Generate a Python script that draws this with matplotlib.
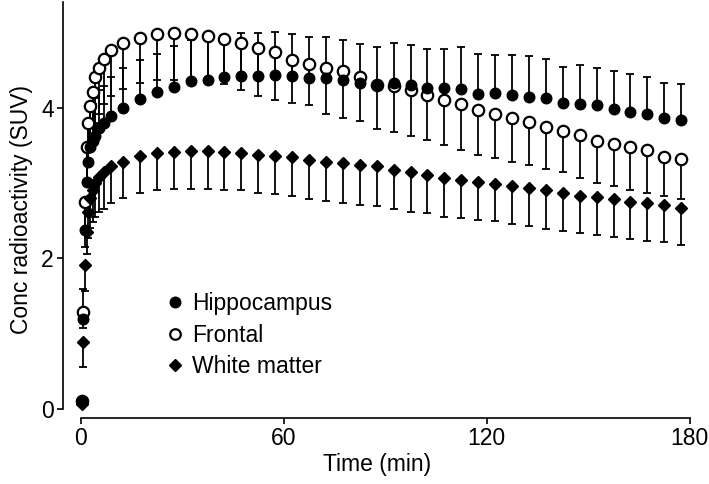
import matplotlib
matplotlib.use("Agg")
import matplotlib.pyplot as plt
from matplotlib.lines import Line2D

plt.rcParams['font.family'] = ['Liberation Sans', 'DejaVu Sans']

# Frame mid-times (min)
time_min = [0.25, 0.75, 1.25, 1.75, 2.25, 2.75, 3.5, 4.25, 5.5, 7.0, 9.0, 12.5,
            17.5, 22.5, 27.5, 32.5, 37.5, 42.5, 47.5, 52.5, 57.5, 62.5, 67.5,
            72.5, 77.5, 82.5, 87.5, 92.5, 97.5, 102.5, 107.5, 112.5, 117.5,
            122.5, 127.5, 132.5, 137.5, 142.5, 147.5, 152.5, 157.5, 162.5,
            167.5, 172.5, 177.5]

hippocampus = [0.10, 1.19, 2.38, 3.01, 3.28, 3.48, 3.55, 3.62, 3.73, 3.79, 3.89, 4.00,
               4.11, 4.20, 4.27, 4.35, 4.37, 4.40, 4.42, 4.42, 4.43, 4.42, 4.39,
               4.39, 4.37, 4.33, 4.30, 4.32, 4.30, 4.26, 4.26, 4.24, 4.18,
               4.19, 4.17, 4.14, 4.12, 4.06, 4.05, 4.03, 3.98, 3.94,
               3.91, 3.86, 3.84]
hippocampus_err = [0.05, 0.40, 0.40, 0.45, 0.45, 0.50, 0.50, 0.50, 0.50, 0.50, 0.52, 0.52,
                   0.52, 0.51, 0.54, 0.55, 0.56, 0.56, 0.57, 0.57, 0.57, 0.56, 0.54,
                   0.54, 0.52, 0.51, 0.50, 0.54, 0.53, 0.51, 0.51, 0.56, 0.53,
                   0.51, 0.53, 0.55, 0.53, 0.48, 0.51, 0.49, 0.51, 0.51,
                   0.50, 0.47, 0.47]

frontal = [0.10, 1.28, 2.75, 3.48, 3.80, 4.02, 4.21, 4.40, 4.52, 4.64, 4.76, 4.85,
           4.92, 4.97, 4.99, 4.97, 4.95, 4.91, 4.85, 4.79, 4.73, 4.63, 4.58,
           4.53, 4.49, 4.41, 4.30, 4.29, 4.23, 4.17, 4.10, 4.04, 3.97,
           3.92, 3.86, 3.81, 3.74, 3.69, 3.63, 3.56, 3.52, 3.47,
           3.43, 3.34, 3.32]
frontal_err = [0.05, 0.20, 0.60, 0.50, 0.55, 0.55, 0.60, 0.60, 0.60, 0.60, 0.61, 0.60,
               0.59, 0.61, 0.62, 0.60, 0.60, 0.60, 0.62, 0.64, 0.63, 0.57, 0.55,
               0.61, 0.63, 0.59, 0.59, 0.61, 0.61, 0.60, 0.60, 0.60, 0.60,
               0.59, 0.58, 0.57, 0.55, 0.55, 0.57, 0.56, 0.56, 0.56,
               0.56, 0.52, 0.53]

white_matter = [0.07, 0.89, 1.91, 2.35, 2.62, 2.80, 2.90, 3.00, 3.08, 3.15, 3.22, 3.28,
                3.35, 3.39, 3.41, 3.42, 3.42, 3.41, 3.40, 3.37, 3.35, 3.34, 3.31,
                3.28, 3.26, 3.24, 3.22, 3.17, 3.14, 3.11, 3.07, 3.04, 3.01,
                2.99, 2.96, 2.93, 2.90, 2.86, 2.83, 2.81, 2.78, 2.75,
                2.73, 2.70, 2.66]
white_matter_err = [0.03, 0.33, 0.35, 0.30, 0.35, 0.40, 0.42, 0.45, 0.47, 0.50, 0.49, 0.48,
                    0.48, 0.48, 0.49, 0.50, 0.50, 0.50, 0.50, 0.50, 0.50, 0.51, 0.53,
                    0.52, 0.53, 0.54, 0.53, 0.52, 0.52, 0.51, 0.52, 0.51, 0.50,
                    0.50, 0.50, 0.50, 0.51, 0.50, 0.49, 0.50, 0.50, 0.49,
                    0.50, 0.49, 0.48]

x_ticks = [0, 60, 120, 180]
y_ticks = [0, 2, 4]

FS = 16.5
W, H = 709, 484
fig = plt.figure(figsize=(W / 100, H / 100), dpi=100)
ax = fig.add_axes([63 / W, 66 / H, (692 - 63) / W, (482 - 66) / H])
ax.set_xlim(-5.23, 180.7)
ax.set_ylim(-0.12, 5.40)

eb_kw = dict(fmt='none', ecolor='black', elinewidth=1.3, capsize=3.2,
             capthick=1.3, zorder=1)
zeros = [0] * len(time_min)
ax.errorbar(time_min, hippocampus, yerr=[zeros, hippocampus_err], **eb_kw)
ax.errorbar(time_min, frontal, yerr=[frontal_err, zeros], **eb_kw)
ax.errorbar(time_min, white_matter, yerr=[white_matter_err, zeros], **eb_kw)

ax.plot(time_min, frontal, 'o', ms=8.2, mfc='white', mec='black', mew=1.6,
        zorder=3, linestyle='none')
ax.plot(time_min, hippocampus, 'o', ms=7.6, mfc='black', mec='black',
        zorder=4, linestyle='none')
ax.plot(time_min, white_matter, 'D', ms=6.6, mfc='black', mec='black',
        zorder=4, linestyle='none')

for s in ['top', 'right']:
    ax.spines[s].set_visible(False)
ax.spines['left'].set_bounds(0, 5.40)
ax.spines['bottom'].set_bounds(0, 180)
for s in ['left', 'bottom']:
    ax.spines[s].set_linewidth(1.2)

ax.set_xticks(x_ticks)
ax.set_yticks(y_ticks)
ax.tick_params(axis='both', direction='out', length=4.5, width=1.2,
               labelsize=FS, pad=2)
ax.set_xlabel('Time (min)', fontsize=FS, labelpad=2)
ax.set_ylabel('Conc radioactivity (SUV)', fontsize=FS, labelpad=6)

handles = [
    Line2D([], [], marker='o', ls='none', ms=7.6, mfc='black', mec='black'),
    Line2D([], [], marker='o', ls='none', ms=7.6, mfc='white', mec='black', mew=1.6),
    Line2D([], [], marker='D', ls='none', ms=6.6, mfc='black', mec='black'),
]
ax.legend(handles, ['Hippocampus', 'Frontal', 'White matter'],
          loc='upper left', bbox_to_anchor=(168 / W, 1 - 292 / H),
          bbox_transform=fig.transFigure, frameon=False, fontsize=FS,
          handlelength=0.6, handletextpad=0.44, labelspacing=0.38,
          borderpad=0, borderaxespad=0)

fig.savefig('out.png', dpi=100)
